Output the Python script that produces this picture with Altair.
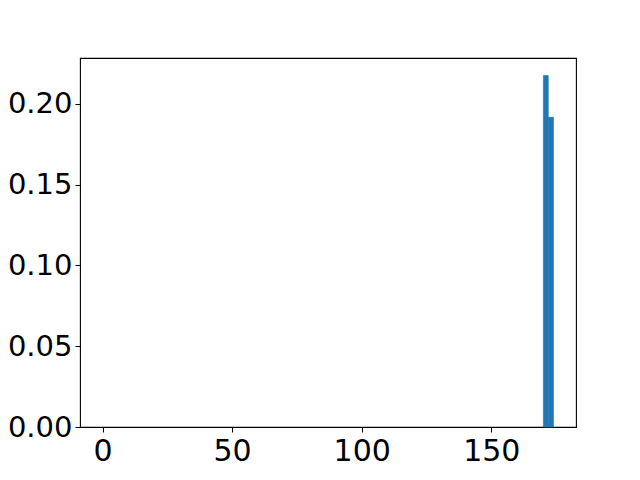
import altair as alt
import pandas as pd

bin_start = [170.1, 172.0]
bin_end = [172.0, 174.0]
density = [0.2175, 0.1917]

x_ticks = [0, 50, 100, 150]
y_ticks = [0.0, 0.05, 0.10, 0.15, 0.20]

df = pd.DataFrame({"start": bin_start, "end": bin_end, "density": density})

FONT = "DejaVu Sans"

chart = alt.Chart(df).mark_rect(color="#1f77b4", stroke="#1f77b4", strokeWidth=0.6).encode(
    x=alt.X(
        "start:Q",
        scale=alt.Scale(domain=[-8.7, 182.7], nice=False, zero=False),
        axis=alt.Axis(
            values=x_ticks,
            format="d",
            labelFontSize=30,
            labelPadding=4,
            title="Frequency (cm⁻¹)",
            titleFontSize=30,
            titleFont=FONT,
            titleFontWeight="normal",
            titleColor="black",
            titlePadding=26,
        ),
    ),
    x2="end:Q",
    y=alt.Y(
        "density:Q",
        scale=alt.Scale(domain=[0, 0.2284], nice=False),
        axis=alt.Axis(values=y_ticks, format=".2f", title=None,
                      labelFontSize=29, labelPadding=3),
    ),
    y2=alt.datum(0),
).properties(
    width=496,
    height=369,
    autosize=alt.AutoSizeParams(type="none"),
    padding={"left": 72, "top": 50, "right": 56, "bottom": 45},
    background="white",
).configure_axis(
    grid=False,
    domain=False,
    ticks=True,
    tickColor="black",
    tickSize=5,
    tickWidth=1,
    labelFont=FONT,
    labelColor="black",
).configure_view(
    stroke="black",
    strokeWidth=1.1,
)

chart.save("out.html", embed_options={"renderer": "svg", "actions": False})
